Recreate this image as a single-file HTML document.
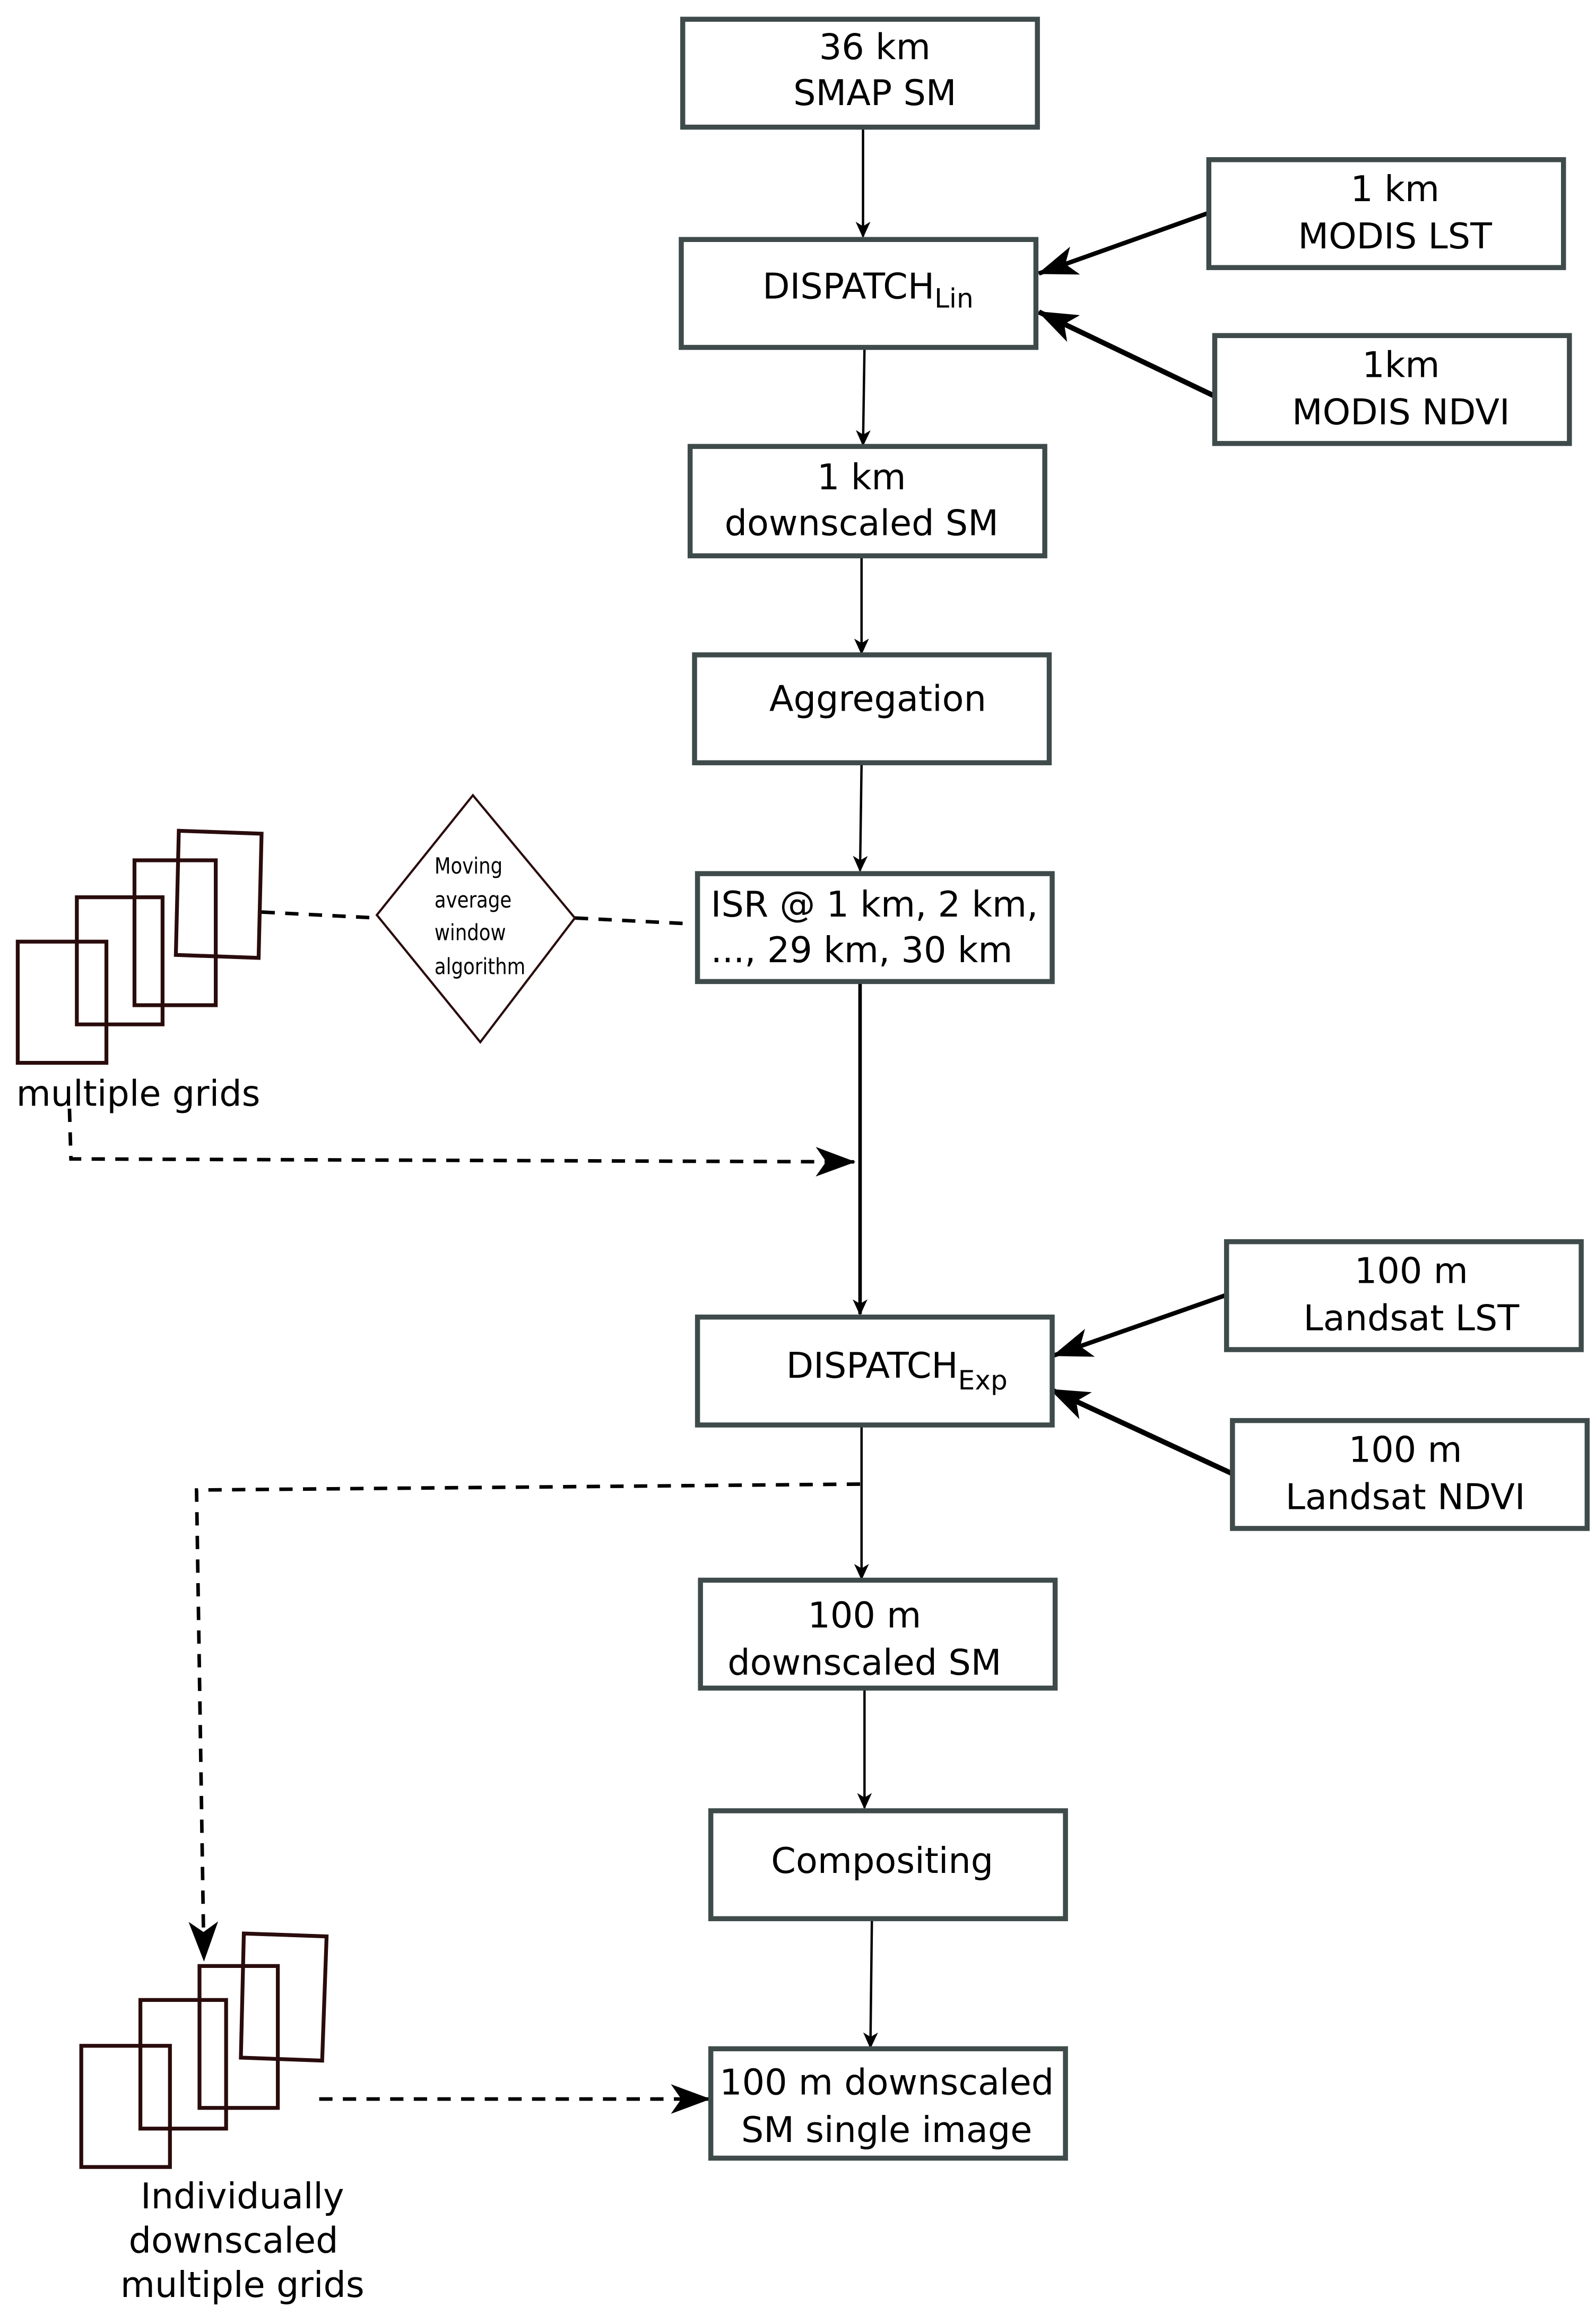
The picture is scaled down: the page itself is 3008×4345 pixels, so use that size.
<!DOCTYPE html>
<html><head><meta charset="utf-8"><style>
html,body{margin:0;padding:0;background:#fff;}
svg{display:block;}
text{font-family:"DejaVu Sans","Liberation Sans",sans-serif;font-size:24px;fill:#000;}
.b{fill:#fff;stroke:#3f4b4b;stroke-width:3.4;}
.g{fill:none;stroke:#2a0c0c;stroke-width:2.6;}
</style></head><body>
<svg width="3008" height="4345" viewBox="0 0 1080 1560" xmlns="http://www.w3.org/2000/svg">
<defs>
<marker id="a" markerWidth="12" markerHeight="12" refX="10" refY="5" orient="auto" markerUnits="userSpaceOnUse"><path d="M0,0 L11,5 L0,10 L3,5 Z" fill="#000"/></marker>
<marker id="A" markerWidth="28" markerHeight="24" refX="26" refY="10" orient="auto" markerUnits="userSpaceOnUse"><path d="M0,0 L27,10 L0,20 L7,10 Z" fill="#000"/></marker>
</defs>
<g stroke="#000" fill="none">
<line x1="584" y1="87" x2="584" y2="160" stroke-width="1.6" marker-end="url(#a)"/>
<line x1="585" y1="235" x2="584" y2="301" stroke-width="1.6" marker-end="url(#a)"/>
<line x1="583" y1="377" x2="583" y2="442" stroke-width="1.6" marker-end="url(#a)"/>
<line x1="583" y1="517" x2="582" y2="589" stroke-width="1.6" marker-end="url(#a)"/>
<line x1="582" y1="664" x2="582" y2="889" stroke-width="2.4" marker-end="url(#a)"/>
<line x1="583" y1="965" x2="583" y2="1068" stroke-width="1.6" marker-end="url(#a)"/>
<line x1="585" y1="1143" x2="585" y2="1223" stroke-width="1.6" marker-end="url(#a)"/>
<line x1="590" y1="1299" x2="589" y2="1385" stroke-width="1.6" marker-end="url(#a)"/>
<line x1="818" y1="144" x2="703" y2="185" stroke-width="3" marker-end="url(#A)"/>
<line x1="822" y1="268" x2="703" y2="211" stroke-width="3.5" marker-end="url(#A)"/>
<line x1="830" y1="876" x2="713" y2="917" stroke-width="3" marker-end="url(#A)"/>
<line x1="834" y1="997" x2="711" y2="940" stroke-width="3.5" marker-end="url(#A)"/>
<g stroke-dasharray="9,7" stroke-width="2.4">
<line x1="177" y1="617" x2="255" y2="621"/>
<line x1="389" y1="621" x2="468" y2="625"/>
<polyline points="47,750 48,784 578,786" marker-end="url(#A)"/>
<polyline points="582,1004 133,1008 138,1326" marker-end="url(#A)"/>
<line x1="216" y1="1420" x2="480" y2="1420" marker-end="url(#A)"/>
</g>
</g>
<rect class="b" x="462" y="13" width="240" height="73"/>
<text x="592" y="40" text-anchor="middle">36 km</text><text x="592" y="71" text-anchor="middle">SMAP SM</text>
<rect class="b" x="461" y="162" width="240" height="73"/>
<text x="516" y="202">DISPATCH<tspan font-size="18" dy="6">Lin</tspan></text>
<rect class="b" x="818" y="108" width="240" height="73"/>
<text x="944" y="136" text-anchor="middle">1 km</text><text x="944" y="168" text-anchor="middle">MODIS LST</text>
<rect class="b" x="822" y="227" width="240" height="73"/>
<text x="948" y="255" text-anchor="middle">1km</text><text x="948" y="287" text-anchor="middle">MODIS NDVI</text>
<rect class="b" x="467" y="302" width="240" height="74"/>
<text x="583" y="331" text-anchor="middle">1 km</text><text x="583" y="362" text-anchor="middle">downscaled SM</text>
<rect class="b" x="470" y="443" width="240" height="73"/>
<text x="594" y="481" text-anchor="middle">Aggregation</text>
<rect class="b" x="472" y="591" width="240" height="73"/>
<text x="481" y="620">ISR @ 1 km, 2 km,</text><text x="481" y="651">..., 29 km, 30 km</text>
<rect class="b" x="830" y="840" width="240" height="73"/>
<text x="955" y="868" text-anchor="middle">100 m</text><text x="955" y="900" text-anchor="middle">Landsat LST</text>
<rect class="b" x="472" y="891" width="240" height="73"/>
<text x="532" y="932">DISPATCH<tspan font-size="18" dy="8">Exp</tspan></text>
<rect class="b" x="834" y="961" width="240" height="73"/>
<text x="951" y="989" text-anchor="middle">100 m</text><text x="951" y="1021" text-anchor="middle">Landsat NDVI</text>
<rect class="b" x="474" y="1069" width="240" height="73"/>
<text x="585" y="1101" text-anchor="middle">100 m</text><text x="585" y="1133" text-anchor="middle">downscaled SM</text>
<rect class="b" x="481" y="1225" width="240" height="73"/>
<text x="597" y="1267" text-anchor="middle">Compositing</text>
<rect class="b" x="481" y="1386" width="240" height="74"/>
<text x="600" y="1417" text-anchor="middle">100 m downscaled</text><text x="600" y="1449" text-anchor="middle">SM single image</text>
<polygon points="320,538 389,621 325,705 255,619" fill="#fff" stroke="#2a0c0c" stroke-width="1.5"/>
<g style="font-family:'DejaVu Sans Condensed','Liberation Sans Narrow',sans-serif;font-size:15px" transform="translate(294,0) scale(0.85,1)">
<text x="0" y="591" style="font-size:15px">Moving</text><text x="0" y="614" style="font-size:15px">average</text><text x="0" y="636" style="font-size:15px">window</text><text x="0" y="659" style="font-size:15px">algorithm</text>
</g>
<polygon class="g" points="121,562 177,564 175,648 119,646"/>
<polygon class="g" points="91,582 146,582 146,680 91,680"/>
<polygon class="g" points="52,607 110,607 110,693 52,693"/>
<polygon class="g" points="12,637 72,637 72,719 12,719"/>
<text x="11" y="748">multiple grids</text>
<polygon class="g" points="165,1308 221,1310 218,1394 163,1392"/>
<polygon class="g" points="135,1330 188,1330 188,1426 135,1426"/>
<polygon class="g" points="95,1353 153,1353 153,1440 95,1440"/>
<polygon class="g" points="55,1384 115,1384 115,1466 55,1466"/>
<text x="164" y="1494" text-anchor="middle">Individually</text>
<text x="158" y="1524" text-anchor="middle">downscaled</text>
<text x="164" y="1554" text-anchor="middle">multiple grids</text>
</svg>
</body></html>
